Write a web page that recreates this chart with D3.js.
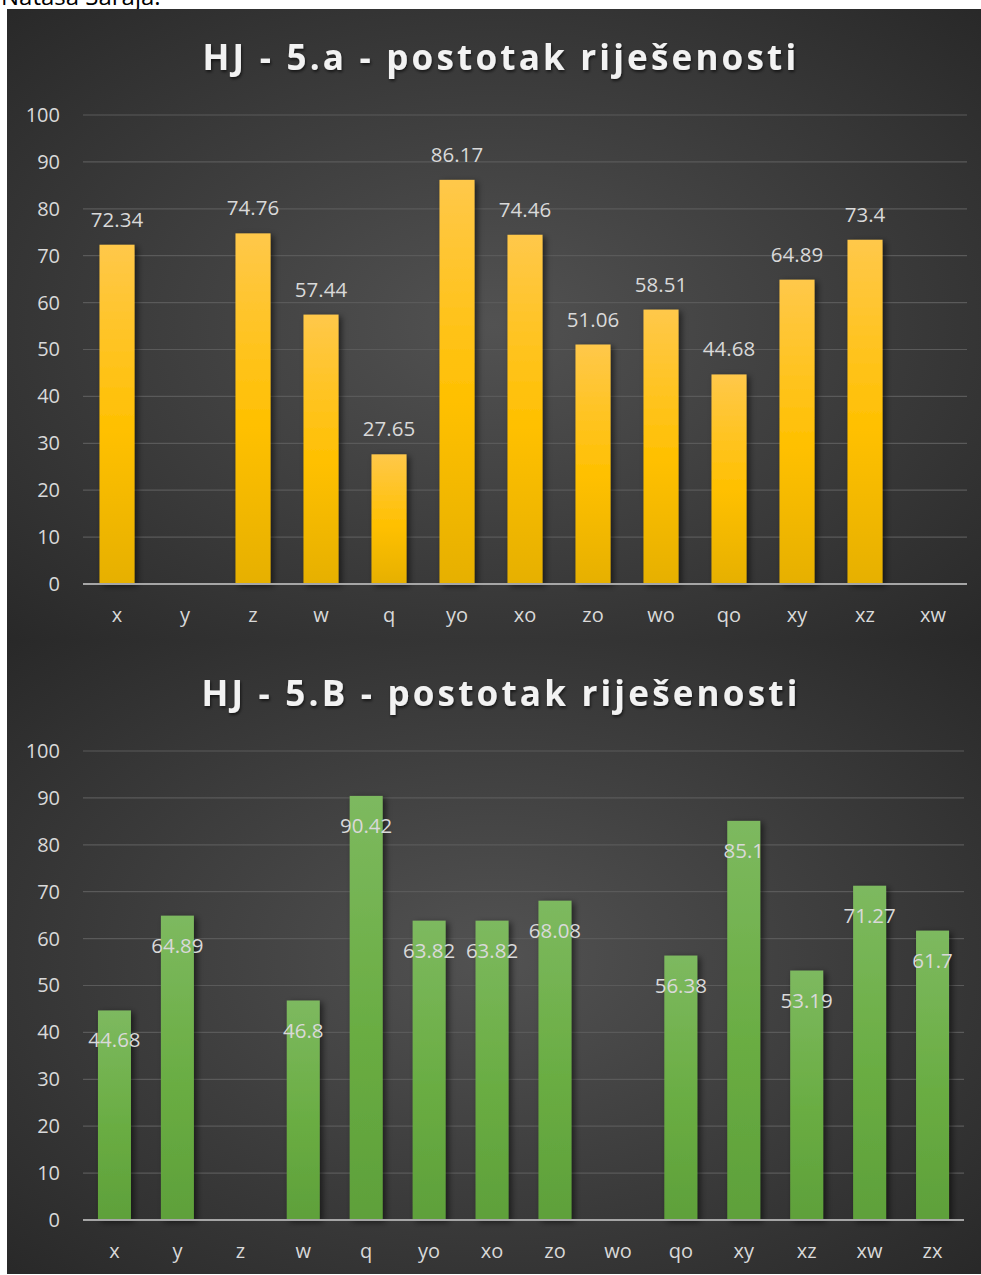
<!DOCTYPE html>
<html><head><meta charset="utf-8">
<script src="https://cdn.jsdelivr.net/npm/d3@7"></script>
<style>
html,body{margin:0;padding:0;background:#fff;}
svg{display:block;}
</style></head>
<body>
<svg id="c" width="981" height="1275"></svg>
<script>
const topTitle = "HJ - 5.a - postotak riješenosti";
const topCategories = ["x","y","z","w","q","yo","xo","zo","wo","qo","xy","xz","xw"];
const topValues = [72.34, null, 74.76, 57.44, 27.65, 86.17, 74.46, 51.06, 58.51, 44.68, 64.89, 73.4, null];

const bottomTitle = "HJ - 5.B - postotak riješenosti";
const bottomCategories = ["x","y","z","w","q","yo","xo","zo","wo","qo","xy","xz","xw","zx"];
const bottomValues = [44.68, 64.89, null, 46.8, 90.42, 63.82, 63.82, 68.08, null, 56.38, 85.1, 53.19, 71.27, 61.7];

const yTicks = [0,10,20,30,40,50,60,70,80,90,100];
const authorText = "Natasa Saraja.";

const svg = d3.select("#c");
const defs = svg.append("defs");

const bg = defs.append("radialGradient").attr("id","bg")
  .attr("cx","0.5").attr("cy","0.5").attr("r","0.75");
bg.append("stop").attr("offset","0").attr("stop-color","#525252");
bg.append("stop").attr("offset","1").attr("stop-color","#262626");

const gy = defs.append("linearGradient").attr("id","gy").attr("x1",0).attr("y1",0).attr("x2",0).attr("y2",1);
gy.append("stop").attr("offset","0").attr("stop-color","#ffc84a");
gy.append("stop").attr("offset","0.55").attr("stop-color","#ffc000");
gy.append("stop").attr("offset","1").attr("stop-color","#e6b000");

const gg = defs.append("linearGradient").attr("id","gg").attr("x1",0).attr("y1",0).attr("x2",0).attr("y2",1);
gg.append("stop").attr("offset","0").attr("stop-color","#7db95f");
gg.append("stop").attr("offset","0.55").attr("stop-color","#6aad43");
gg.append("stop").attr("offset","1").attr("stop-color","#5ea03a");

const sh = defs.append("filter").attr("id","sh").attr("x","-30%").attr("y","-10%").attr("width","180%").attr("height","130%");
sh.append("feDropShadow").attr("dx",3).attr("dy",2).attr("stdDeviation",3).attr("flood-color","#000").attr("flood-opacity",0.55);

const tsh = defs.append("filter").attr("id","tsh").attr("x","-10%").attr("y","-30%").attr("width","120%").attr("height","160%");
tsh.append("feDropShadow").attr("dx",1).attr("dy",2).attr("stdDeviation",1.5).attr("flood-color","#000").attr("flood-opacity",0.6);

// author text (cut at top in the reference)
svg.append("text").attr("x",1).attr("y",5).attr("font-family","'Open Sans', sans-serif")
  .attr("font-size",24).attr("fill","#000").text(authorText);

const FONT = "'Open Sans', 'Noto Sans', sans-serif";

function drawChart(o){
  const g = svg.append("g");
  g.append("rect").attr("x",7).attr("y",o.panelTop).attr("width",974).attr("height",o.panelH).attr("fill","url(#bg)");

  g.append("text").attr("x",501).attr("y",o.titleY)
    .attr("text-anchor","middle").attr("font-family",FONT).attr("font-weight","bold")
    .attr("font-size",35).attr("letter-spacing","3.2px").attr("fill","#f2f2f2")
    .attr("filter","url(#tsh)").text(o.title);

  const x = d3.scaleBand().domain(o.cats).range([83, o.xEnd]).paddingInner(o.pad).paddingOuter(o.pad/2);
  const y = d3.scaleLinear().domain([0,100]).range([o.y0, o.y100]);

  g.append("g").selectAll("line").data(yTicks.filter(d=>d>0)).join("line")
    .attr("x1",83).attr("x2",o.xEnd).attr("y1",d=>y(d)).attr("y2",d=>y(d))
    .attr("stroke","#5a5a5a").attr("stroke-width",1.2);

  const ya = g.append("g").attr("transform","translate(60,0)")
    .call(d3.axisLeft(y).tickValues(yTicks).tickSize(0).tickPadding(0));
  ya.select(".domain").remove();
  ya.selectAll("text").attr("font-family",FONT).attr("font-size",20).attr("fill","#d9d9d9").attr("text-anchor","end");

  const data = o.cats.map((c,i)=>({c, v:o.vals[i]})).filter(d=>d.v!=null);

  g.append("g").selectAll("rect").data(data).join("rect")
    .attr("x",d=>x(d.c)).attr("width",x.bandwidth())
    .attr("y",d=>y(d.v)).attr("height",d=>y(0)-y(d.v))
    .attr("fill",o.fill).attr("filter","url(#sh)");

  g.append("line").attr("x1",83).attr("x2",o.xEnd).attr("y1",y(0)).attr("y2",y(0))
    .attr("stroke","#a6a6a6").attr("stroke-width",2.2);

  const xa = g.append("g").attr("transform",`translate(0,${y(0)})`)
    .call(d3.axisBottom(x).tickSize(0).tickPadding(o.xPad));
  xa.select(".domain").remove();
  xa.selectAll("text").attr("font-family",FONT).attr("font-size",20).attr("fill","#d9d9d9");

  g.append("g").selectAll("text").data(data).join("text")
    .attr("x",d=>x(d.c)+x.bandwidth()/2)
    .attr("y",d=>y(d.v)+o.labOff)
    .attr("text-anchor","middle").attr("dominant-baseline","central")
    .attr("font-family",FONT).attr("font-size",20.5).attr("fill","#d9d9d9")
    .text(d=>d.v);
}

drawChart({title:topTitle, cats:topCategories, vals:topValues, panelTop:9, panelH:632,
  titleY:70, y0:584, y100:115, xEnd:967, pad:0.485, fill:"url(#gy)", labOff:-26, xPad:24});
drawChart({title:bottomTitle, cats:bottomCategories, vals:bottomValues, panelTop:641, panelH:633,
  titleY:706, y0:1220, y100:751, xEnd:964, pad:0.476, fill:"url(#gg)", labOff:29, xPad:24});
</script>
</body></html>
